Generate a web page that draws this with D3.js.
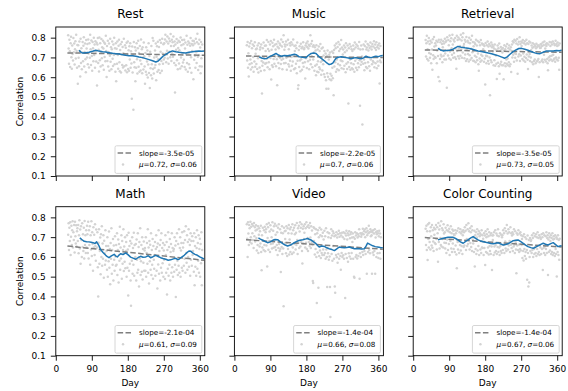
<!DOCTYPE html>
<html>
<head>
<meta charset="utf-8">
<script src="https://cdn.jsdelivr.net/npm/d3@7"></script>
<style>
  body { margin: 0; background: #fff; }
  svg { display: block; font-family: "DejaVu Sans", sans-serif; }
</style>
</head>
<body>
<svg id="chart" width="568" height="391"></svg>
<script>
// ---- data -------------------------------------------------------------
const tasks = ["Rest", "Music", "Retrieval", "Math", "Video", "Color Counting"];

// first recording day; each correlation array holds one value per day (x1000)
const firstDay = 31;

const restCorr = [
  812,745,668,790,731,652,772,805,701,643,760,718,685,798,726,770,664,741,782,695,815,733,648,763,
  567,762,698,655,781,733,604,795,672,746,640,725,778,681,759,802,654,728,770,691,625,788,745,700,
  768,665,791,720,649,772,698,815,741,662,786,707,633,778,746,681,800,712,765,648,782,731,679,774,
  558,765,798,672,739,629,801,686,772,654,727,793,696,752,661,784,745,638,776,702,769,681,810,733,
  601,758,682,785,654,727,771,633,709,794,678,752,640,741,780,693,657,765,712,799,665,746,628,772,
  580,744,668,781,712,643,759,790,676,630,738,767,624,716,778,662,753,649,721,795,655,713,762,634,
  749,661,774,625,718,780,642,736,633,757,690,772,648,731,669,491,755,624,712,435,778,676,650,751,
  580,735,648,772,691,619,746,784,653,722,628,758,685,634,791,667,742,620,751,698,639,775,706,654,
  567,723,628,751,612,680,735,598,664,772,621,707,545,729,645,610,758,666,593,798,642,785,619,700,
  648,735,662,770,585,703,756,628,779,691,637,753,665,788,621,729,774,682,632,795,720,668,767,690,
  772,698,791,815,719,676,780,734,806,695,771,668,796,729,782,701,818,758,682,789,721,777,703,806,
  758,672,780,522,765,661,739,793,686,774,640,748,785,669,736,778,644,801,700,762,655,788,721,674,
  767,688,789,652,745,776,639,718,810,672,764,628,781,720,665,772,646,759,798,701,623,768,733,785,
  762,590,783,688,771,709,648,795,726,672,777,820,704,637,768,711,789,655,750,620,778,696,654,765
];

const musicCorr = [
  762,685,778,648,721,604,755,665,772,690,639,783,671,746,650,765,702,628,758,680,777,653,719,741,
  667,745,641,760,696,624,772,705,649,740,752,631,765,682,517,658,747,674,776,700,635,759,668,733,
  761,672,788,695,650,743,778,676,732,640,765,697,783,588,739,661,774,651,756,692,790,668,764,705,
  740,655,768,691,559,754,780,672,746,645,771,698,762,667,791,688,755,640,778,693,812,670,739,765,
  755,672,780,698,638,764,705,789,666,741,654,772,683,760,632,777,702,658,766,679,791,710,640,758,
  732,645,761,668,746,620,775,683,542,559,738,652,756,685,630,769,691,746,638,754,672,777,653,741,
  748,675,593,761,696,772,647,753,780,681,745,764,640,758,688,812,666,769,707,783,650,755,690,762,
  725,632,751,658,735,610,762,664,628,740,681,625,755,650,732,640,768,677,612,745,683,634,750,665,
  710,615,732,601,698,720,585,542,708,620,735,602,542,690,713,590,725,618,702,585,607,730,648,595,
  722,509,738,654,761,675,746,628,770,689,640,753,667,778,635,732,765,660,743,684,788,645,750,681,
  715,740,642,761,658,726,750,625,772,668,735,642,760,675,467,746,651,768,690,638,755,670,742,645,
  732,640,760,665,742,628,775,683,750,648,765,695,636,758,670,745,650,778,686,455,740,663,761,678,
  705,360,742,668,765,690,635,758,672,780,652,740,750,645,768,675,735,760,655,748,632,776,690,755,
  740,665,768,682,755,675,782,650,748,765,670,738,777,645,752,680,762,658,745,770,568,685,758,675
];

const retrievalCorr = [
  788,705,772,810,692,741,780,685,798,723,768,698,785,717,670,775,740,638,792,711,692,804,755,702,
  772,698,760,785,671,735,778,707,601,790,744,580,692,777,713,789,705,768,676,751,782,708,770,689,
  794,720,778,690,785,547,802,735,710,788,762,695,811,730,782,688,797,746,713,815,765,698,789,722,
  780,701,798,745,692,643,810,732,788,706,801,747,695,792,758,709,815,740,786,698,802,725,822,757,
  768,696,790,715,779,682,804,742,691,785,718,776,679,799,711,772,688,789,744,697,810,726,778,683,
  756,682,775,708,768,675,790,702,761,686,783,720,665,632,777,694,762,678,788,713,685,771,707,765,
  742,765,678,758,695,563,773,709,671,762,706,780,682,755,668,768,700,509,759,686,776,675,751,764,
  730,755,661,745,686,765,658,740,710,668,591,735,760,673,747,655,770,618,732,665,753,678,742,660,
  725,748,660,590,735,762,670,742,656,755,690,668,768,695,660,746,675,761,655,740,665,752,626,732,
  765,700,782,713,775,678,790,721,698,785,718,770,685,793,618,766,705,779,716,802,682,768,710,780,
  758,775,692,788,720,685,772,703,782,678,765,697,790,715,772,688,641,768,705,780,717,682,775,700,
  738,760,675,749,772,665,753,682,765,690,758,670,747,769,680,753,685,762,692,601,756,675,748,766,
  749,768,682,758,690,775,675,762,713,780,688,745,765,680,758,772,692,670,635,765,700,685,778,706,
  758,690,775,709,765,682,780,713,688,770,695,762,678,785,700,768,690,758,775,685,762,698,638,770
];

const mathCorr = [
  712,770,635,748,680,775,610,702,758,660,735,780,648,725,685,762,622,778,705,668,760,652,730,745,
  680,762,618,710,785,642,738,565,755,685,600,770,650,715,630,748,592,782,660,710,620,735,648,758,
  715,620,778,592,735,660,755,560,710,638,780,605,725,665,530,750,648,712,610,765,655,580,738,672,
  648,725,548,400,672,740,565,630,698,512,715,600,755,555,668,590,710,495,682,618,560,735,582,655,
  630,535,700,500,655,578,728,545,640,462,670,590,745,515,635,560,690,480,658,585,530,705,602,555,
  660,560,720,508,635,688,470,665,580,752,535,648,592,710,490,680,565,635,740,528,652,575,700,542,
  630,675,500,710,545,638,405,722,530,655,565,680,480,353,668,580,700,515,645,560,722,505,660,595,
  600,665,480,688,585,520,720,535,650,450,675,592,745,508,578,660,525,700,485,640,570,678,530,632,
  645,530,700,500,620,670,565,740,520,648,465,680,578,662,535,720,508,635,560,690,490,655,585,540,
  610,675,505,640,710,530,650,440,668,562,735,515,630,660,480,685,545,720,520,645,568,670,500,632,
  585,660,488,710,610,520,675,410,635,540,725,505,650,560,690,480,625,665,520,720,548,645,500,630,
  640,525,700,560,658,397,680,535,720,580,508,665,555,740,520,645,700,500,632,670,545,725,530,648,
  670,555,730,590,685,520,755,620,570,710,535,675,600,740,550,688,660,505,720,585,680,555,705,610,
  630,680,525,720,456,655,550,700,505,645,735,540,670,580,710,520,640,692,500,665,568,725,456,635
];

const videoCorr = [
  765,692,600,775,718,660,762,745,675,778,700,752,668,767,720,685,758,645,772,705,750,678,733,760,
  695,632,738,660,755,620,712,745,652,730,668,758,625,532,710,648,748,682,635,735,660,752,628,725,
  740,658,765,552,695,750,636,772,680,728,625,760,665,738,700,642,775,668,732,646,755,685,768,650,
  712,635,758,660,725,610,748,645,765,665,630,740,640,524,722,650,755,615,720,642,350,748,668,730,
  690,732,618,755,670,605,745,640,720,762,612,688,740,625,750,660,718,615,765,648,735,622,748,665,
  715,760,638,722,660,772,685,615,745,670,758,645,728,775,652,748,676,765,630,566,742,668,755,690,
  722,765,648,745,672,775,640,753,695,630,760,676,748,655,772,698,645,755,675,734,660,478,468,750,
  680,745,612,715,640,740,600,367,720,622,735,444,700,605,748,632,710,595,738,620,705,610,722,638,
  688,610,732,620,705,590,745,638,600,448,725,618,700,585,720,602,448,296,695,740,615,708,580,730,
  655,720,590,705,450,418,710,610,725,598,698,570,715,615,732,590,702,720,605,535,708,620,722,600,
  700,608,725,590,690,720,392,615,708,732,595,688,720,575,710,618,730,602,694,715,590,725,620,698,
  675,718,590,700,500,494,692,725,600,708,610,720,592,698,715,605,705,740,490,618,720,600,702,712,
  720,625,742,610,715,730,630,738,700,615,725,745,515,710,732,625,720,758,635,725,618,740,705,730,
  710,515,725,622,735,610,718,630,740,515,698,725,600,715,730,618,720,595,705,732,620,718,590,700
];

const colorCountingCorr = [
  742,660,758,635,730,584,765,690,648,772,675,730,638,750,705,658,762,646,735,678,630,748,712,670,
  740,665,762,690,638,750,720,576,772,675,738,642,758,695,660,780,652,745,690,735,648,765,718,672,
  725,642,748,670,620,735,688,760,635,730,665,742,610,725,680,755,642,720,625,738,668,732,640,715,
  710,625,735,658,720,612,542,732,675,638,745,680,620,725,660,740,632,718,655,728,615,710,735,650,
  725,658,750,680,732,635,762,690,655,740,665,770,685,730,638,745,670,725,650,755,630,735,688,668,
  700,625,732,551,710,640,725,615,698,740,632,715,655,730,610,705,720,638,712,620,735,648,710,645,
  692,610,720,645,708,559,730,625,700,715,620,740,648,705,612,725,655,630,710,615,720,652,534,708,
  685,710,610,725,652,622,735,660,630,718,615,708,650,740,625,705,648,610,720,655,630,712,620,700,
  710,635,735,660,720,620,745,678,642,730,630,762,665,718,638,740,658,725,680,625,750,662,720,645,
  708,725,630,715,652,740,660,620,730,675,638,517,720,658,712,635,735,662,625,718,640,725,632,710,
  660,690,595,705,630,582,715,640,605,700,625,590,690,635,484,708,620,450,685,470,600,695,630,680,
  685,620,710,635,695,600,720,640,615,705,650,620,715,605,700,640,725,615,695,625,710,610,700,648,
  690,615,715,640,700,534,720,645,620,710,652,610,705,640,725,620,695,710,509,688,625,720,700,632,
  680,710,615,695,625,720,610,688,705,620,692,605,710,640,615,700,501,690,625,710,610,685,585,692
];

// rolling mean, [day, correlation]
const restRolling = [[58,.736],[62,.728],[67,.722],[75,.724],[83,.726],[92,.731],[100,.736],[108,.732],[117,.729],[125,.727],[133,.724],[142,.721],[150,.719],[158,.717],[167,.714],[175,.711],[183,.709],[192,.708],[200,.706],[208,.702],[217,.699],[225,.694],[233,.689],[242,.683],[250,.677],[256,.682],[262,.694],[268,.706],[275,.716],[283,.726],[292,.733],[300,.729],[308,.726],[317,.724],[325,.722],[333,.726],[342,.729],[350,.731],[358,.733],[365,.731],[371,.732]];
const musicRolling = [[62,.703],[68,.697],[75,.693],[81,.695],[87,.703],[96,.712],[104,.72],[110,.712],[117,.706],[125,.71],[133,.709],[142,.712],[150,.716],[156,.712],[162,.703],[170,.701],[179,.699],[186,.712],[192,.72],[198,.722],[204,.72],[212,.703],[218,.694],[225,.683],[231,.672],[237,.664],[242,.667],[246,.671],[250,.684],[254,.696],[260,.701],[267,.703],[273,.701],[279,.699],[285,.697],[292,.693],[298,.697],[304,.699],[310,.696],[317,.693],[323,.698],[329,.706],[335,.701],[342,.699],[348,.703],[354,.706],[360,.704],[367,.709],[371,.71]];
const retrievalRolling = [[62,.746],[68,.738],[75,.733],[83,.735],[92,.736],[100,.742],[106,.75],[112,.756],[120,.752],[129,.749],[137,.747],[146,.743],[154,.738],[162,.733],[170,.73],[179,.726],[188,.722],[196,.719],[204,.714],[212,.709],[220,.703],[229,.696],[235,.703],[242,.716],[250,.729],[258,.739],[264,.745],[271,.746],[279,.741],[287,.736],[296,.729],[304,.723],[310,.72],[317,.719],[325,.726],[333,.733],[341,.733],[350,.733],[358,.735],[365,.734],[371,.736]];
const mathRolling = [[60,.696],[65,.688],[71,.679],[77,.677],[83,.676],[88,.674],[93,.672],[98,.668],[102,.676],[107,.66],[112,.637],[118,.622],[125,.608],[129,.601],[133,.596],[139,.605],[146,.613],[150,.604],[154,.6],[158,.609],[162,.616],[168,.612],[175,.62],[181,.61],[187,.599],[193,.594],[200,.588],[206,.597],[212,.603],[218,.598],[225,.6],[231,.606],[237,.596],[243,.601],[250,.608],[256,.602],[262,.596],[268,.592],[275,.588],[281,.583],[287,.585],[294,.59],[300,.593],[304,.587],[308,.588],[314,.598],[321,.608],[327,.62],[333,.63],[338,.628],[342,.62],[348,.613],[354,.608],[360,.6],[367,.593],[371,.59]];
const videoRolling = [[60,.696],[65,.69],[71,.684],[77,.678],[83,.672],[90,.676],[96,.684],[102,.688],[108,.687],[115,.676],[121,.667],[127,.66],[133,.655],[140,.66],[146,.667],[152,.674],[158,.68],[164,.684],[171,.687],[177,.69],[183,.693],[188,.688],[193,.684],[198,.676],[204,.667],[208,.658],[212,.65],[218,.655],[225,.653],[231,.646],[237,.641],[244,.637],[250,.632],[256,.641],[262,.65],[268,.647],[275,.646],[281,.648],[287,.65],[294,.645],[300,.641],[306,.642],[312,.641],[318,.64],[325,.641],[329,.655],[333,.67],[340,.662],[346,.656],[352,.652],[358,.65],[365,.647],[371,.646]];
const colorCountingRolling = [[62,.686],[68,.69],[75,.694],[81,.697],[87,.699],[94,.7],[100,.699],[106,.693],[112,.686],[118,.676],[125,.669],[131,.678],[137,.686],[144,.696],[150,.703],[156,.694],[162,.686],[169,.68],[175,.677],[181,.674],[187,.672],[194,.668],[200,.666],[206,.669],[212,.672],[219,.665],[225,.66],[231,.663],[237,.666],[244,.675],[250,.682],[256,.684],[262,.686],[269,.677],[275,.669],[281,.66],[287,.652],[294,.647],[300,.644],[306,.649],[312,.656],[319,.663],[325,.669],[331,.664],[337,.66],[344,.667],[350,.672],[356,.662],[362,.652],[367,.655],[371,.656]];

// linear trend: value at trendFrom and slope per day
const trendStart = [0.723, 0.707, 0.738, 0.655, 0.687, 0.698];
const slopes = [-3.5e-5, -2.2e-5, -3.5e-5, -2.1e-4, -1.4e-4, -1.4e-4];
const trendFrom = 29, trendTo = 371;

// summary statistics shown in the legends
const means = ["0.72", "0.7", "0.73", "0.61", "0.66", "0.67"];
const stds = ["0.06", "0.06", "0.05", "0.09", "0.08", "0.06"];

const xTicks = [0, 90, 180, 270, 360];
const yTicks = [0.1, 0.2, 0.3, 0.4, 0.5, 0.6, 0.7, 0.8];

// ---- layout ----------------------------------------------------------
const corr = [restCorr, musicCorr, retrievalCorr, mathCorr, videoCorr, colorCountingCorr];
const rolling = [restRolling, musicRolling, retrievalRolling, mathRolling, videoRolling, colorCountingRolling];

const W = 149, H = 149;
const colX = [55.8, 234.4, 413.2];
const rowY = [27, 206.7];

const x = d3.scaleLinear().domain([0, 372.5]).range([0, W]);
const y = d3.scaleLinear().domain([0.1, 0.854]).range([H, 0]);

const svg = d3.select("#chart");
const defs = svg.append("defs");
defs.append("clipPath").attr("id", "plotArea")
  .append("rect").attr("width", W).attr("height", H);

const sciFmt = v => v.toExponential(1).replace(/e([+-])(\d)$/, "e$10$2");

tasks.forEach((task, i) => {
  const col = i % 3, row = Math.floor(i / 3);
  const g = svg.append("g").attr("transform", `translate(${colX[col]},${rowY[row]})`);
  const plot = g.append("g").attr("clip-path", "url(#plotArea)");

  // daily correlations
  plot.append("g").selectAll("circle")
    .data(corr[i])
    .join("circle")
    .attr("cx", (v, j) => x(firstDay + j))
    .attr("cy", v => y(v / 1000))
    .attr("r", 1.25)
    .attr("fill", "#d3d3d3");

  // linear trend
  const trend = d => trendStart[i] + slopes[i] * (d - trendFrom);
  plot.append("line")
    .attr("x1", x(trendFrom)).attr("y1", y(trend(trendFrom)))
    .attr("x2", x(trendTo)).attr("y2", y(trend(trendTo)))
    .attr("stroke", "#7f7f7f").attr("stroke-width", 1.5)
    .attr("stroke-dasharray", "5.5,2.4");

  // rolling mean
  plot.append("path")
    .datum(rolling[i])
    .attr("d", d3.line().x(d => x(d[0])).y(d => y(d[1])))
    .attr("fill", "none")
    .attr("stroke", "#1f77b4")
    .attr("stroke-width", 1.5)
    .attr("stroke-linejoin", "round");

  // axes
  const xAxis = d3.axisBottom(x).tickValues(xTicks).tickSize(5).tickPadding(5).tickSizeOuter(0);
  if (row === 0) xAxis.tickFormat("");
  const yAxis = d3.axisLeft(y).tickValues(yTicks).tickSize(5).tickPadding(5).tickSizeOuter(0)
    .tickFormat(col === 0 ? d3.format(".1f") : "");

  const gx = g.append("g").attr("transform", `translate(0,${H})`).call(xAxis);
  const gy = g.append("g").call(yAxis);
  [gx, gy].forEach(a => {
    a.select(".domain").remove();
    a.selectAll("line").attr("stroke", "#000").attr("stroke-width", 0.9);
    a.selectAll("text").attr("font-size", 9).attr("fill", "#000")
      .attr("font-family", "DejaVu Sans, sans-serif");
  });

  // frame
  g.append("rect").attr("width", W).attr("height", H)
    .attr("fill", "none").attr("stroke", "#000").attr("stroke-width", 0.9);

  // title
  g.append("text").attr("x", W / 2).attr("y", -9)
    .attr("text-anchor", "middle").attr("font-size", 12).attr("fill", "#000")
    .text(task);

  if (col === 0) {
    g.append("text")
      .attr("transform", `translate(${20 - colX[0]},${H / 2}) rotate(-90)`)
      .attr("text-anchor", "middle").attr("dominant-baseline", "central")
      .attr("font-size", 9).attr("fill", "#000")
      .text("Correlation");
  }
  if (row === 1) {
    g.append("text").attr("x", W / 2).attr("y", 386.5 - rowY[1])
      .attr("text-anchor", "middle").attr("font-size", 9).attr("fill", "#000")
      .text("Day");
  }

  // legend
  const lg = g.append("g");
  const box = lg.append("rect");
  const fs = 7.2;
  const t1 = lg.append("text").attr("font-size", fs).attr("fill", "#000")
    .text("slope=" + sciFmt(slopes[i]));
  const t2 = lg.append("text").attr("font-size", fs).attr("fill", "#000");
  t2.append("tspan").attr("font-style", "italic").text("μ");
  t2.append("tspan").text("=" + means[i] + ", ");
  t2.append("tspan").attr("font-style", "italic").text("σ");
  t2.append("tspan").text("=" + stds[i]);

  const tw = Math.max(t1.node().getComputedTextLength(), t2.node().getComputedTextLength());
  const bw = 24 + tw + 5, bh = 27.6;
  const bx = W - 3 - bw, by = H - 2.6 - bh;
  box.attr("x", bx).attr("y", by).attr("width", bw).attr("height", bh)
    .attr("rx", 1.5)
    .attr("fill", "#fff").attr("fill-opacity", 0.8)
    .attr("stroke", "#cccccc").attr("stroke-width", 0.8);

  const r1 = by + 7.2, r2 = by + 18.8;
  lg.append("line")
    .attr("x1", bx + 2.6).attr("x2", bx + 16)
    .attr("y1", r1).attr("y2", r1)
    .attr("stroke", "#7f7f7f").attr("stroke-width", 1.5)
    .attr("stroke-dasharray", "5.5,2.4");
  lg.append("circle").attr("cx", bx + 8).attr("cy", r2).attr("r", 1.25).attr("fill", "#d3d3d3");
  t1.attr("x", bx + 24).attr("y", r1 + 2.6);
  t2.attr("x", bx + 24).attr("y", r2 + 2.6);
});
</script>
</body>
</html>
